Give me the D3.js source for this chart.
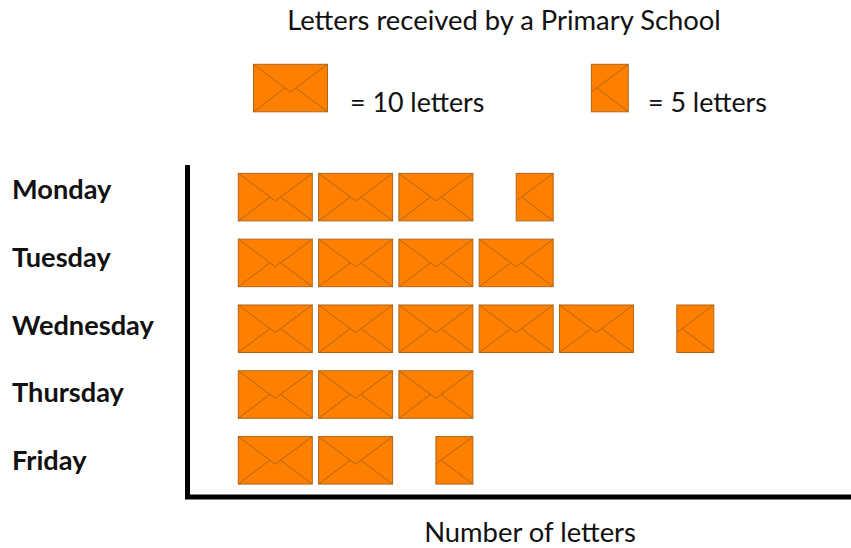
<!DOCTYPE html>
<html lang="en">
<head>
  <meta charset="UTF-8">
  <title>Letters received by a Primary School</title>
  <script src="https://d3js.org/d3.v7.min.js"></script>
  <style>
    body, html { margin: 0; padding: 0; background: #fff; }
    svg { display: block; }
    text { font-family: Lato, "Open Sans", sans-serif; fill: #111; }
    .title, .caption { font-size: 27.4px; }
    .key-text { font-size: 26.8px; }
    .day-axis text { font-size: 27.2px; font-weight: 700; fill: #111; text-anchor: start; }
    .day-axis path, .day-axis line { display: none; }
    .axis-line { stroke: #000; stroke-width: 5px; fill: none; }
    .envelope { fill: #ff8000; stroke: #b0651a; stroke-width: 1px; }
    .fold { fill: none; stroke: #b0651a; stroke-width: 1px; }
  </style>
</head>
<body>
  <svg width="851" height="548"></svg>
  <script>
    const days = ["Monday", "Tuesday", "Wednesday", "Thursday", "Friday"];
    const letters = [35, 40, 55, 30, 25];
    const legendValues = [10, 5];

    const width = 851, height = 548;
    const perIcon = 10;
    const iconW = 74, iconH = 47.5;

    const svg = d3.select("svg");

    const x = d3.scaleLinear().domain([0, 10]).range([238.3, 318.6]);
    const y = d3.scaleBand().domain(days).range([164.5, 493.5]).paddingInner(0.27).paddingOuter(0.135);
    // the labels are spaced a little wider than the rows
    const yLabel = d3.scalePoint().domain(days).range([190, 461]);

    // unit coordinates of the fold lines on a whole envelope
    const foldsFull = [
      [[0, 0], [0.5, 0.58], [1, 0]],
      [[0, 1], [0.425, 0.5]],
      [[1, 1], [0.575, 0.5]]
    ];
    // right half only: the flap stops at the cut edge
    const foldsHalf = [
      [[1, 0], [0.5, 0.58]],
      [[1, 1], [0.575, 0.5]]
    ];

    function drawIcon(g, left, top, half) {
      const u = d3.scaleLinear().domain([0, 1]).range([left, left + iconW]);
      const v = d3.scaleLinear().domain([0, 1]).range([top, top + iconH]);
      const line = d3.line().x(d => u(d[0])).y(d => v(d[1]));
      const start = half ? 0.5 : 0;
      g.append("rect")
        .attr("class", "envelope")
        .attr("x", u(start))
        .attr("y", v(0))
        .attr("width", u(1) - u(start))
        .attr("height", iconH);
      g.selectAll(null)
        .data(half ? foldsHalf : foldsFull)
        .enter().append("path")
        .attr("class", "fold")
        .attr("d", line);
    }

    // title and key
    svg.append("text").attr("class", "title")
      .attr("x", 504).attr("y", 30).attr("text-anchor", "middle")
      .text("Letters received by a Primary School");

    const keyIconX = [253.5, 554.3];
    const keyTextX = [350, 648];
    legendValues.forEach((val, i) => {
      drawIcon(svg.append("g"), keyIconX[i], 64.3, val < perIcon);
      svg.append("text").attr("class", "key-text")
        .attr("x", keyTextX[i]).attr("y", 111.5)
        .text(`= ${val} letters`);
    });

    // rows of envelopes
    days.forEach((day, i) => {
      const row = svg.append("g").attr("class", "row");
      const whole = Math.floor(letters[i] / perIcon);
      d3.range(whole).forEach(k => drawIcon(row, x(k * perIcon), y(day), false));
      if (letters[i] % perIcon > 0) drawIcon(row, x(whole * perIcon), y(day), true);
    });

    // day labels
    svg.append("g")
      .attr("class", "day-axis")
      .attr("transform", "translate(12,0)")
      .call(d3.axisLeft(yLabel).tickSize(0).tickPadding(0))
      .call(g => g.selectAll("text").attr("x", 0).attr("dy", "0.32em"));

    // axis lines
    svg.append("path").attr("class", "axis-line")
      .attr("d", d3.line()([[187.5, 165], [187.5, 497], [width, 497]]));

    svg.append("text").attr("class", "caption")
      .attr("x", 530).attr("y", 542).attr("text-anchor", "middle")
      .text("Number of letters");
  </script>
</body>
</html>
